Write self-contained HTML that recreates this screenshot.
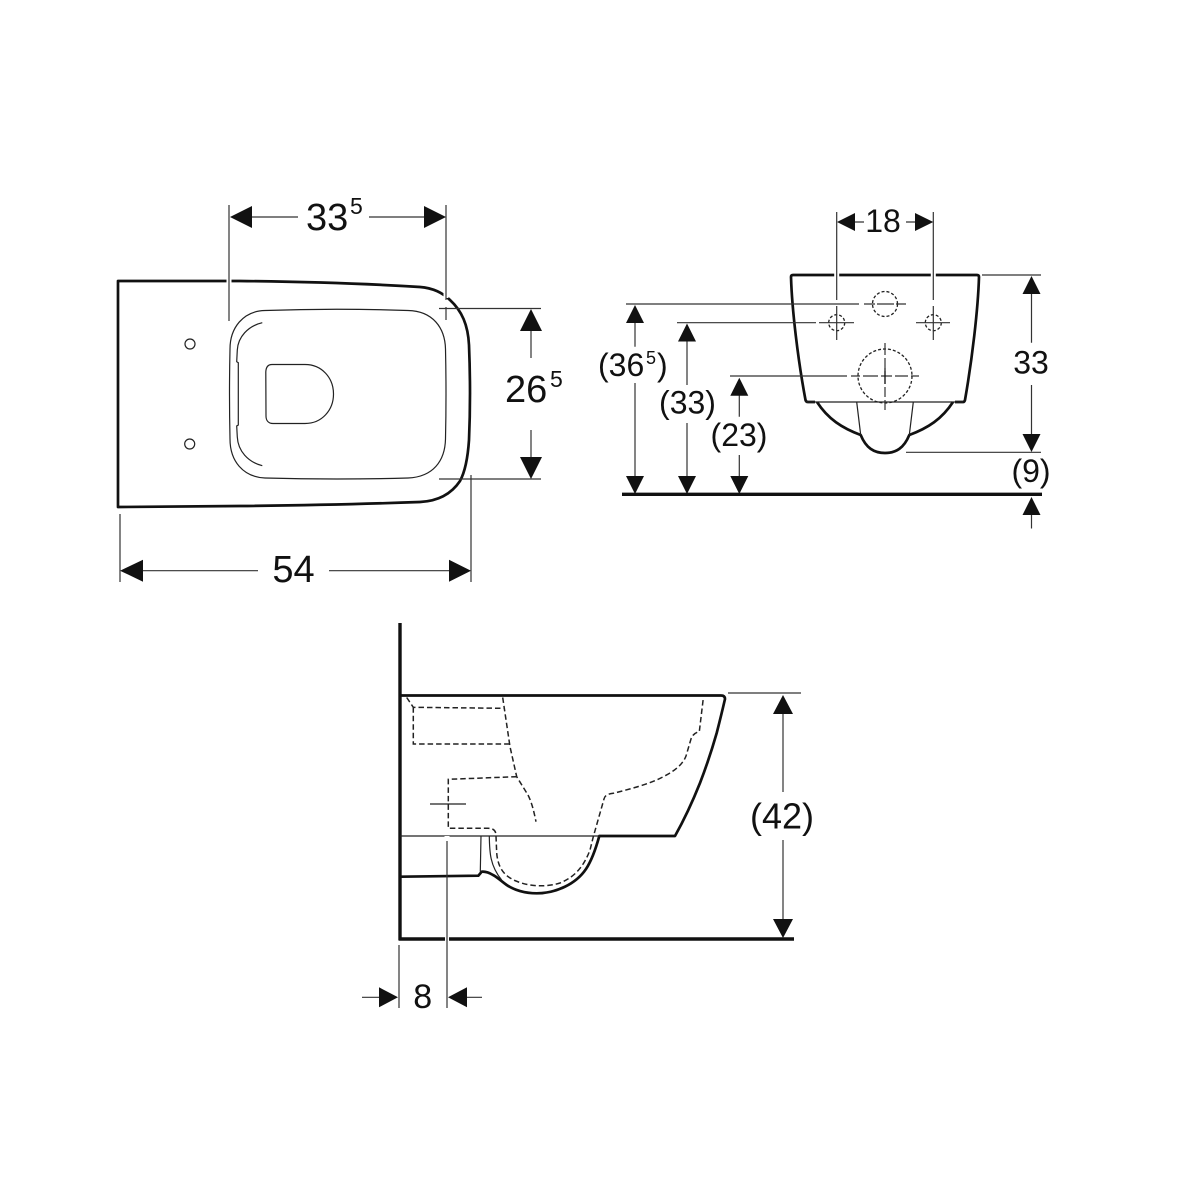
<!DOCTYPE html>
<html><head><meta charset="utf-8"><style>
html,body{margin:0;padding:0;background:#fff}
svg{display:block}
text{font-family:"Liberation Sans",sans-serif;fill:#111}
.k{stroke:#111;stroke-width:2.7;fill:none;stroke-linejoin:round}
.h{stroke:#111;stroke-width:3.4;fill:none}
.t{stroke:#222;stroke-width:1.2;fill:none}
.d{stroke:#333;stroke-width:1.2;fill:none}
.ds{stroke:#222;stroke-width:1.5;fill:none;stroke-dasharray:5.5 3}
.c{stroke:#222;stroke-width:1.3;fill:none;stroke-dasharray:3 2}
.w{stroke:#fff;stroke-width:5;fill:none}
.a{fill:#111;stroke:none}
</style></head><body>
<svg width="1200" height="1200" viewBox="0 0 1200 1200" xmlns="http://www.w3.org/2000/svg">
<rect width="1200" height="1200" fill="#fff"/>

<!-- TOP VIEW -->
<path class="k" d="M118,281 L118,507 L240,506 Q340,505 420,502 C440,501 452,493 460,481 C466,470 468,455 469,440 Q471,394 469,345 C468,325 462,311 450,300 C442,292 432,288 420,287 Q340,282 240,281 L118,281Z"/>
<path class="w" d="M229,278 L229,285"/>
<path class="w" stroke-width="4" d="M446,291 L446,298"/>
<path class="t" d="M265,310.5 Q337,308 408,310.5 C433,311 445,328 445.5,349 Q446.5,394 445.5,439 C445,461 433,477 408,478 Q337,480 265,478 C243,477 230,461 230,439 Q229,394 230,349 C230,328 243,311 265,310.5Z"/>
<path class="t" d="M262.3,322.7 C248,326 238,337 237.3,350 L236.7,361.7 L238.3,362.7 L238.3,425 L236.7,426 L237.3,437 C238,451 248,462 262.3,465.7"/>
<path class="t" stroke-width="1.4" d="M272,364.5 L305,364.5 C322,364.5 333.5,378 333.5,394 C333.5,410 322,423.5 305,423.5 L273,423.5 C268,423.5 266,420 266,416 L265.8,372 C266,367 268,364.5 272,364.5Z"/>
<circle class="t" cx="190" cy="344" r="5"/>
<circle class="t" cx="189.7" cy="444" r="5"/>
<path class="d" d="M229,205V321 M446,205V300 M446,307V320 M439,308.5H541 M439,479H541 M471,475V582 M120,514V582"/>
<path class="d" d="M252,217H298 M369,217H424 M531,331V358 M531,430V457 M143,570.7H258 M329,570.7H449"/>
<path class="a" d="M230,217L252,206V228Z M446,217L424,206V228Z M531,309L520,331H542Z M531,479L520,457H542Z M120,570.7L143,559.7V581.7Z M471,570.7L449,559.7V581.7Z"/>
<text x="306" y="230" font-size="38">33</text>
<text x="350" y="214" font-size="23">5</text>
<text x="505" y="402" font-size="38">26</text>
<text x="550" y="387" font-size="23">5</text>
<text x="293.5" y="582" font-size="38" text-anchor="middle">54</text>

<!-- FRONT VIEW -->
<path class="k" d="M955,402 L963,402 Q964.5,402 965,400 C972,360 978,310 979,277 Q979,275 977,275 L793,275 Q791,275 791,277 C792,310 798,360 805.5,400 Q806,402 808,402 L815,402"/>
<path class="k" d="M817,402 C828,419 842,428 860.7,435 C866,448 874,453 885,453 C896,453 904,448 909.3,435 C928,428 942,419 953,402"/>
<path class="t" d="M806,402H963 M856.7,402L860.7,435 M913.3,402L909.3,435"/>
<circle class="c" cx="885" cy="304" r="12.5"/>
<circle class="c" cx="836.7" cy="322.7" r="8"/>
<circle class="c" cx="933.3" cy="322.7" r="8"/>
<circle class="c" cx="885" cy="376" r="27"/>
<path class="w" stroke-width="3" d="M836.7,270V300 M933.3,270V300"/>
<path class="d" d="M836.7,212V300 M836.7,306V340 M933.3,212V300 M933.3,306V340"/>
<path class="d" d="M626,304H859 M864,304H875 M877,304H894 M896,304H906"/>
<path class="d" d="M677,322.7H816 M819,322.7H854 M916,322.7H950"/>
<path class="d" d="M730,376H847 M851,376H860 M863,376H878 M881,376H892 M895,376H908 M911,376H919"/>
<path class="d" d="M885,343V355 M885,358V368 M885,371V384 M885,387V397 M885,400V410"/>
<path class="k" style="stroke-width:1.2" d="M885,368V384"/>
<path class="d" d="M855,222H864 M906,222H915"/>
<path class="a" d="M837,222L855,213V231Z M933.3,222L915,213V231Z"/>
<text x="883" y="232" font-size="32" text-anchor="middle">18</text>

<path class="d" d="M982,275H1041 M906,452.3H1041 M1031.5,293V342.7 M1031.5,385V434"/>
<path class="a" d="M1031.5,276L1022.5,294H1040.5Z M1031.5,452L1022.5,434H1040.5Z"/>
<text x="1031" y="373.5" font-size="32" text-anchor="middle">33</text>
<text x="1031" y="482" font-size="32" text-anchor="middle">(9)</text>
<path class="h" d="M622,494.3H1042"/>
<path class="a" d="M1031.5,497L1022.5,515H1040.5Z"/>
<path class="d" d="M1031.5,515V528.5"/>

<path class="d" d="M635,323V346.7 M635,383V477 M687,341V385 M687,423V477 M739.3,395V416.7 M739.3,455V477"/>
<path class="a" d="M635,305L626,323H644Z M635,494L626,476H644Z M687,323.5L678,341.5H696Z M687,494L678,476H696Z M739.3,377.7L730.3,395.7H748.3Z M739.3,494L730.3,476H748.3Z"/>
<text x="598" y="376" font-size="32">(36</text>
<text x="646" y="364" font-size="18">5</text>
<text x="657" y="376" font-size="32">)</text>
<text x="687.5" y="413.5" font-size="32" text-anchor="middle">(33)</text>
<text x="739" y="446" font-size="32" text-anchor="middle">(23)</text>

<!-- SIDE VIEW -->
<path class="h" d="M400,623V940.5"/>
<path class="h" d="M399,939H445 M449,939H794"/>
<path class="k" d="M400,695.5 L721,695.5 Q725,695.5 725,699 C722,712 719,724 716.7,733 C711,753 705,770 700,783 C692,803 684,820 675,836 L599.3,836 C596,848 592,860 586,869 C576,884 556,893.3 536.7,893.3 C525,893.3 514,890 506.7,885 C500,880 497,877 493,875 C488,872 484,871.5 481.7,871.7 L478.3,875.7 L401,876.7"/>
<path class="t" d="M400,836H600 M481,836L480.3,871.7 M489.3,836 C489.5,852 490,866 501.7,880"/>
<path class="ds" d="M406.7,697.5 L413.3,707.3 L504,708.3 M413.3,707.3 L413.3,744 L509.3,744"/>
<path class="ds" d="M502.7,697.5 L510,746.7 L516.7,776.7 L528,795 C532,803 534,812 536,821.7"/>
<path class="ds" d="M516.7,776.7 L448.3,779.3 L448.3,828.3 L488,828.3 C494,828.3 496,831 496,836 L496.7,853 C498,868 504,876 516,881 C530,887 548,887 560,883 C575,877 584,866 590,850 L593.3,836.7 L604,799 Q605,794 613.3,793.3 C630,789 650,784 663.3,776.7 C675,771 683,764 686,756 L691,739 Q693,733 699.3,731.7 L703.3,698.3"/>
<path class="t" stroke-width="1.4" d="M430,804H466"/>
<path class="w" stroke-width="3" d="M447,836V841"/>
<path class="d" d="M447,841V1008 M399,945V1008 M728,693H801 M783,714V792 M783,840V919"/>
<path class="a" d="M783,695L773,714H793Z M783,938L773,919H793Z"/>
<text x="782" y="828.5" font-size="36" text-anchor="middle">(42)</text>
<path class="d" d="M362,997.3H380 M467,997.3H482"/>
<path class="a" d="M398,997.3L379,987.3V1007.3Z M448,997.3L467,987.3V1007.3Z"/>
<text x="422.7" y="1008" font-size="34" text-anchor="middle">8</text>
</svg>
</body></html>
